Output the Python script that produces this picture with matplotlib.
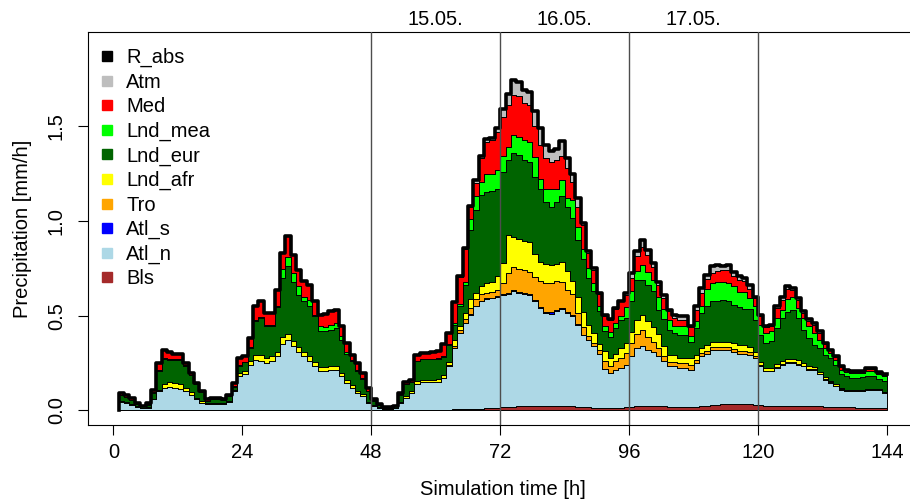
import matplotlib
matplotlib.use("Agg")
import matplotlib.pyplot as plt
import matplotlib.transforms as mtransforms
from matplotlib.lines import Line2D
import numpy as np

plt.rcParams['font.family'] = 'Liberation Sans'

# hourly contributions to precipitation [mm/h], hours 1..144
hours = np.arange(1, 145)

bls = [0, 0, 0, 0, 0, 0, 0, 0, 0, 0, 0, 0,
       0, 0, 0, 0, 0, 0, 0, 0, 0, 0, 0, 0,
       0, 0, 0, 0, 0, .003, .003, .003, .003, .003, .003, .003,
       .003, .003, .003, .003, .003, .003, .003, .003, .003, .001, .001, .001,
       .001, .001, .001, .001, .001, .001, .001, .002, .002, .003, .003, .003,
       .004, .004, .005, .005, .006, .006, .008, .010, .011, .013, .014, .016,
       .018, .020, .021, .022, .023, .024, .025, .025, .025, .025, .025, .024,
       .022, .020, .018, .016, .014, .013, .012, .012, .013, .015, .017, .020,
       .023, .025, .026, .026, .024, .022, .020, .018, .017, .016, .017, .018,
       .021, .024, .027, .030, .032, .034, .035, .035, .034, .033, .030, .028,
       .026, .024, .024, .024, .025, .026, .026, .025, .024, .022, .021, .020,
       .019, .018, .017, .016, .016, .015, .015, .014, .014, .013, .012, .012]

atl_n = [.044, .040, .030, .020, .012, .014, .058, .100, .120, .125, .120, .114,
         .100, .080, .058, .040, .032, .035, .035, .032, .044, .100, .180, .190,
         .240, .268, .260, .250, .260, .283, .347, .371, .336, .307, .283, .257,
         .230, .204, .204, .213, .213, .177, .143, .117, .090, .074, .039, .024,
         .014, .009, .009, .011, .039, .066, .092, .135, .148, .147, .147, .149,
         .166, .229, .325, .405, .454, .499, .542, .565, .579, .580, .586, .594,
         .596, .608, .599, .592, .587, .551, .515, .489, .485, .498, .510, .490,
         .478, .433, .382, .358, .326, .287, .205, .186, .202, .210, .225, .266,
         .307, .314, .294, .284, .262, .238, .213, .215, .208, .209, .199, .232,
         .265, .276, .293, .290, .288, .286, .275, .265, .266, .262, .247, .205,
         .181, .183, .201, .218, .225, .224, .216, .208, .192, .194, .169, .143,
         .127, .110, .093, .084, .084, .085, .085, .093, .093, .094, .081, .081]

atl_s = [0, 0, 0, 0, 0, 0, 0, 0, 0, 0, 0, 0,
         0, 0, 0, 0, 0, 0, 0, 0, 0, 0, 0, 0,
         0, 0, 0, 0, 0, 0, 0, 0, 0, 0, 0, 0,
         0, 0, 0, 0, 0, 0, 0, 0, 0, 0, 0, 0,
         0, 0, 0, 0, 0, 0, 0, 0, 0, 0, 0, 0,
         0, 0, 0, 0, 0, .002, .002, .002, .002, .002, .002, .005,
         .005, .006, .006, .006, .006, .006, .008, .008, .008, .008, .008, .007,
         .005, .003, 0, 0, 0, 0, 0, 0, 0, 0, 0, 0,
         0, 0, 0, 0, 0, 0, 0, 0, 0, 0, 0, 0,
         0, 0, 0, 0, 0, 0, 0, 0, 0, 0, 0, 0,
         0, 0, 0, 0, 0, 0, 0, 0, 0, 0, 0, 0,
         0, 0, 0, 0, 0, 0, 0, 0, 0, 0, 0, 0]

tro = [0, 0, 0, 0, 0, 0, 0, 0, 0, 0, 0, 0,
       0, 0, 0, 0, 0, 0, 0, 0, 0, 0, 0, 0,
       0, 0, 0, 0, 0, 0, 0, 0, 0, 0, 0, 0,
       0, 0, 0, 0, 0, 0, 0, 0, 0, 0, 0, 0,
       0, 0, 0, 0, 0, 0, 0, 0, 0, 0, 0, 0,
       0, .005, .010, .015, .020, .035, .035, .035, .030, .030, .035, .060,
       .105, .125, .120, .120, .115, .125, .135, .150, .155, .150, .135, .115,
       .110, .060, .040, .020, .015, .020, .045, .035, .045, .050, .060, .070,
       .075, .085, .070, .050, .045, .025, .025, .025, .025, .025, .025, .015,
       .015, .015, .015, .015, .015, .015, .015, .015, .015, .012, .010, .005,
       .003, .003, .003, .003, .003, .003, .003, .003, .002, .002, .002, .002,
       .002, .002, .002, .001, .001, .001, .001, .001, .001, .001, .001, .001]

lnd_afr = [.005, .005, .004, .003, .002, .002, .005, .010, .020, .025, .025, .025,
           .020, .015, .010, .008, .005, .005, .005, .005, .006, .010, .020, .020,
           .020, .025, .030, .025, .025, .025, .035, .030, .025, .025, .025, .025,
           .020, .020, .020, .020, .020, .015, .015, .012, .010, .010, .005, .003,
           .002, .001, .001, .001, .005, .010, .010, .020, .012, .012, .012, .012,
           .015, .020, .030, .020, .035, .045, .035, .045, .050, .055, .070, .105,
           .200, .155, .160, .155, .157, .120, .100, .100, .093, .090, .105, .100,
           .070, .080, .080, .055, .053, .030, .050, .044, .040, .053, .056, .060,
           .070, .080, .080, .080, .070, .055, .035, .035, .025, .025, .035, .025,
           .030, .030, .025, .025, .025, .025, .030, .030, .030, .030, .020, .020,
           .015, .015, .015, .015, .020, .020, .020, .015, .015, .012, .010, .010,
           .008, .008, .006, .005, .005, .005, .005, .005, .005, .005, .005, .005]

lnd_eur = [.031, .025, .021, .012, .008, .014, .027, .100, .130, .115, .120, .126,
           .115, .090, .072, .047, .013, .020, .020, .018, .025, .015, .035, .045,
           .071, .177, .198, .172, .162, .234, .315, .356, .316, .275, .264, .265,
           .243, .190, .193, .190, .199, .178, .139, .128, .107, .082, .055, .022,
           .013, .006, .006, .008, .039, .060, .047, .103, .108, .108, .108, .108,
           .095, .089, .080, .105, .145, .363, .438, .478, .483, .480, .463, .480,
           .396, .442, .441, .425, .422, .407, .387, .328, .309, .329, .347, .339,
           .329, .304, .280, .251, .220, .173, .106, .113, .135, .151, .130, .159,
           .215, .186, .193, .188, .129, .140, .133, .116, .125, .125, .084, .145,
           .183, .208, .215, .220, .224, .215, .203, .200, .190, .198, .172, .142,
           .131, .140, .192, .228, .244, .255, .223, .175, .149, .117, .128, .120,
           .121, .104, .072, .074, .066, .066, .071, .067, .067, .054, .055, .055]

lnd_mea = [.003, .003, .002, .002, .001, .002, .005, .005, .005, .005, .005, .005,
           .005, .003, .002, .002, .002, .002, .002, .001, .003, .003, .004, .003,
           .004, .005, .005, .003, .003, .005, .045, .050, .045, .045, .025, .035,
           .010, .026, .022, .023, .026, .018, .009, .005, .005, .005, .005, .003,
           .002, .001, .001, .001, .002, .003, .002, .003, .003, .003, .003, .003,
           .005, .005, .010, .010, .020, .060, .070, .070, .090, .090, .100, .080,
           .070, .096, .096, .105, .105, .105, .053, .070, .096, .070, .088, .044,
           .096, .070, .053, .053, .044, .026, .026, .026, .026, .018, .060, .053,
           .044, .080, .070, .060, .070, .055, .053, .035, .044, .044, .035, .035,
           .035, .088, .096, .096, .096, .096, .096, .080, .088, .060, .070, .053,
           .053, .053, .053, .044, .070, .070, .053, .062, .062, .062, .044, .035,
           .026, .026, .026, .021, .023, .026, .021, .026, .026, .026, .030, .030]

med = [.010, .011, .010, .003, .003, .005, .015, .035, .045, .040, .030, .030,
       .010, .007, .004, .003, .006, .005, .005, .002, .006, .018, .038, .028,
       .045, .075, .082, .064, .064, .083, .085, .108, .095, .085, .084, .078,
       .069, .062, .068, .074, .067, .053, .047, .030, .035, .026, .015, .005,
       .003, .002, .002, .003, .007, .010, .008, .027, .032, .032, .037, .040,
       .065, .058, .110, .145, .170, .065, .070, .125, .170, .175, .200, .210,
       .220, .213, .214, .195, .195, .162, .179, .160, .139, .150, .122, .161,
       .095, .105, .127, .077, .068, .066, .056, .059, .074, .078, .062, .070,
       .080, .095, .088, .071, .062, .057, .046, .046, .035, .035, .044, .062,
       .070, .053, .054, .062, .062, .070, .053, .062, .062, .045, .044, .044,
       .032, .030, .055, .053, .053, .035, .044, .026, .030, .044, .035, .018,
       .014, .014, .014, .010, .007, .005, .005, .012, .014, .005, .004, .004]

atm = [0, 0, 0, 0, 0, 0, 0, 0, 0, 0, 0, 0,
       0, 0, 0, 0, 0, 0, 0, 0, 0, 0, 0, 0,
       0, 0, 0, 0, 0, 0, 0, 0, 0, 0, 0, 0,
       0, 0, 0, 0, 0, 0, 0, 0, 0, 0, 0, 0,
       0, 0, 0, 0, 0, 0, 0, 0, 0, 0, 0, 0,
       0, 0, 0, .005, .005, .005, .015, .010, .015, .015, .020, .040,
       .060, .080, .078, .070, .070, .080, .088, .070, .060, .060, .080, .050,
       .045, .045, .010, .010, .010, .005, .005, .005, .005, .005, .010, .027,
       .026, .035, .026, .018, .018, .018, .005, .015, .017, .017, .008, .018,
       .027, .022, .035, .030, .018, .027, .026, .020, .013, .023, .007, .008,
       .003, .005, .007, .015, .014, .013, .008, .009, .006, .007, .009, .008,
       .003, .004, .003, .005, .005, .004, .004, .007, .005, .004, .002, .002]

# stacking order bottom -> top
layers = [("Bls", bls, "#A52A2A"),
          ("Atl_n", atl_n, "#ADD8E6"),
          ("Atl_s", atl_s, "#0000FF"),
          ("Tro", tro, "#FFA500"),
          ("Lnd_afr", lnd_afr, "#FFFF00"),
          ("Lnd_eur", lnd_eur, "#006400"),
          ("Lnd_mea", lnd_mea, "#00FF00"),
          ("Med", med, "#FF0000"),
          ("Atm", atm, "#BEBEBE")]

day_lines = [48, 72, 96, 120]
day_labels = ["15.05.", "16.05.", "17.05."]
day_label_pos = [60, 84, 108]

fs = 14.5
fig = plt.figure(figsize=(9.1, 5.03), dpi=100)
ax = fig.add_axes([88 / 910, 1 - 425 / 503, (917.7 - 88) / 910, (425 - 32) / 503])

base = np.zeros(len(hours))
for name, vals, col in layers:
    top = base + np.array(vals)
    ax.fill_between(hours, base, top, step="post", facecolor=col,
                    edgecolor="black", linewidth=0.7, zorder=2)
    base = top

# R_abs = total, thick black outline
r_abs = base
ax.step(np.r_[hours[0], hours], np.r_[0, r_abs], where="post",
        color="black", linewidth=2.6, zorder=4)

for d in day_lines:
    ax.axvline(d, color="#4d4d4d", linewidth=1.0, zorder=5)

trans = mtransforms.blended_transform_factory(ax.transData, ax.transAxes)
for xpos, lab in zip(day_label_pos, day_labels):
    ax.text(xpos, 1.031, lab, transform=trans, ha="center", va="center",
            fontsize=fs)

ax.set_xlim(-4.72, 149.72)
ax.set_ylim(-0.0768, 1.9968)
ax.set_xticks(np.arange(0, 145, 24))
ax.set_yticks([0.0, 0.5, 1.0, 1.5])
ax.set_yticklabels(["0.0", "0.5", "1.0", "1.5"], rotation=90, va="center")
ax.tick_params(axis="both", labelsize=fs, length=7, width=0.8, direction="out")
ax.tick_params(axis="x", pad=6)
ax.tick_params(axis="y", pad=9)
for sp in ax.spines.values():
    sp.set_linewidth(0.8)

ax.set_xlabel("Simulation time [h]", fontsize=fs, va="center")
ax.xaxis.set_label_coords(0.5, -0.165)
ax.set_ylabel("Precipitation [mm/h]", fontsize=fs, va="center")
ax.yaxis.set_label_coords(-0.0795, 0.5)

leg_names = ["R_abs", "Atm", "Med", "Lnd_mea", "Lnd_eur", "Lnd_afr",
             "Tro", "Atl_s", "Atl_n", "Bls"]
leg_cols = ["black", "#BEBEBE", "#FF0000", "#00FF00", "#006400", "#FFFF00",
            "#FFA500", "#0000FF", "#ADD8E6", "#A52A2A"]
handles = [Line2D([], [], marker="s", linestyle="", color=c, markersize=7)
           for c in leg_cols]
ax.legend(handles, leg_names, loc="upper left",
          bbox_to_anchor=(97 / 910, 1 - 48 / 503), bbox_transform=fig.transFigure,
          frameon=False, borderaxespad=0, borderpad=0, handlelength=1.0,
          handletextpad=0.45, labelspacing=0.27, fontsize=fs)

plt.savefig("out.png", dpi=100)
